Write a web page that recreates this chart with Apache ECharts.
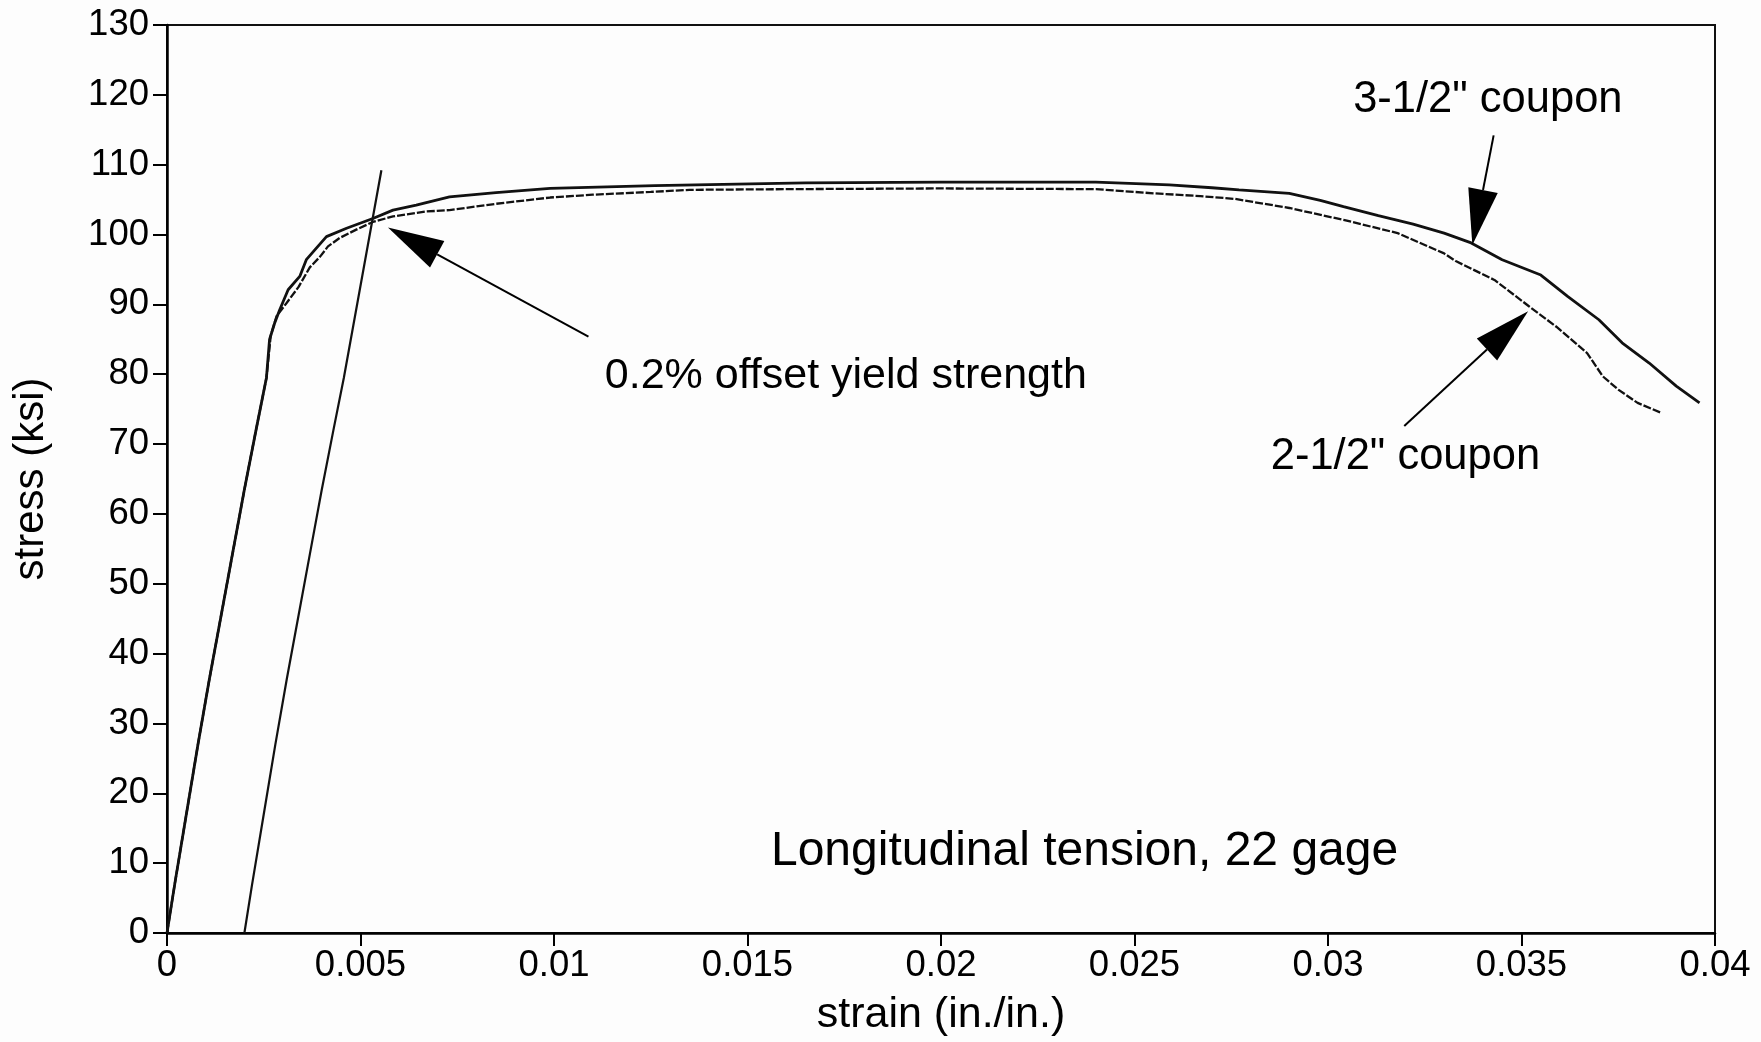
<!DOCTYPE html>
<html>
<head>
<meta charset="utf-8">
<title>Longitudinal tension, 22 gage</title>
<script src="https://cdn.jsdelivr.net/npm/echarts@6/dist/echarts.min.js"></script>
<style>
  html, body { margin: 0; padding: 0; background: #fdfdfd; }
  #chart { width: 1761px; height: 1042px; }
</style>
</head>
<body>
<div id="chart"></div>
<script>
// Stress-strain records, strain in in./in., stress in ksi
const coupon35Strain = [0, 0.0002, 0.0005, 0.0008, 0.0011, 0.0014, 0.0017, 0.0020, 0.0023, 0.00257,
  0.00265, 0.00278, 0.00291, 0.00313, 0.00343, 0.0036, 0.00382, 0.00412, 0.00464, 0.00532, 0.00584, 0.00644, 0.0073,
  0.0085, 0.0099, 0.0126, 0.0165, 0.0200, 0.0240, 0.0259, 0.0270, 0.0277, 0.0290, 0.0298, 0.0304, 0.0313, 0.0322,
  0.0330, 0.0337, 0.0345, 0.0355, 0.0362, 0.0370, 0.0376, 0.0383, 0.0390, 0.0396];
const coupon35Stress = [0, 7, 17, 27, 36.5, 45.5, 54.5, 63.5, 72, 79.5,
  85.0, 87.3, 89.2, 92.1, 94.0, 96.4, 97.8, 99.7, 100.9, 102.3, 103.5, 104.2, 105.4,
  106.0, 106.6, 107.0, 107.4, 107.5, 107.5, 107.1, 106.7, 106.4, 105.9, 104.9, 104.0, 102.7, 101.5,
  100.2, 98.8, 96.4, 94.2, 91.1, 87.8, 84.5, 81.6, 78.3, 75.9];

const coupon25Strain = [0, 0.0002, 0.0005, 0.0008, 0.0011, 0.0014, 0.0017, 0.0020, 0.0023, 0.00257,
  0.00268, 0.00283, 0.00309, 0.0034, 0.00369, 0.00395, 0.00416, 0.00446, 0.00489, 0.00532, 0.00584, 0.0067, 0.0073,
  0.0085, 0.0099, 0.0110, 0.0125, 0.0135, 0.0161, 0.0200, 0.0240, 0.0255, 0.0267, 0.0276, 0.0290, 0.0304, 0.0318,
  0.0330, 0.0333, 0.0343, 0.0352, 0.0359, 0.0367, 0.0371, 0.0375, 0.0380, 0.0386];
const coupon25Stress = [0, 7, 17, 27, 36.5, 45.5, 54.5, 63.5, 72, 79.5,
  85.5, 88.3, 90.2, 92.5, 95.3, 96.8, 98.3, 99.5, 100.7, 101.8, 102.6, 103.3, 103.5,
  104.4, 105.3, 105.7, 106.1, 106.4, 106.5, 106.6, 106.5, 105.9, 105.5, 105.1, 103.8, 102.1, 100.2,
  97.3, 96.2, 93.5, 89.7, 86.8, 83.0, 79.7, 77.8, 75.9, 74.5];

// 0.2% offset line (elastic slope shifted by 0.002)
const offsetStrain = [0.002, 0.0022, 0.0025, 0.0028, 0.0031, 0.0034, 0.0037, 0.0040, 0.0043, 0.00457, 0.00554];
const offsetStress = [0, 7, 17, 27, 36.5, 45.5, 54.5, 63.5, 72, 79.5, 109.2];

// Axis ticks
const strainTickLabels = ['0', '0.005', '0.01', '0.015', '0.02', '0.025', '0.03', '0.035', '0.04'];
const stressTickLabels = ['0', '10', '20', '30', '40', '50', '60', '70', '80', '90', '100', '110', '120', '130'];

// Callout arrows: [tail strain, tail stress, tip strain, tip stress]
const calloutArrows = [
  [0.01089, 85.4, 0.00571, 101.0],
  [0.03428, 114.2, 0.03373, 98.5],
  [0.03197, 72.6, 0.03517, 89.0]
];

// Notes anchored in data units: [strain, stress]
const noteAnchors = [[0.01754, 79.7], [0.03413, 119.2], [0.0320, 68.2], [0.02371, 11.7]];
const noteTexts = ['0.2% offset yield strength', '3-1/2" coupon', '2-1/2" coupon', 'Longitudinal tension, 22 gage'];

const FONT = '"Liberation Sans", Arial, Helvetica, sans-serif';
const noteFontSizes = [43, 43.5, 43.5, 48];

const zip = (xs, ys) => xs.map((x, i) => [x, ys[i]]);

const chart = echarts.init(document.getElementById('chart'), null, { renderer: 'canvas' });

chart.setOption({
  backgroundColor: '#fdfdfd',
  animation: false,
  grid: {
    left: 167, right: 46, top: 25, bottom: 108,
    show: true, borderColor: '#111', borderWidth: 2, backgroundColor: 'transparent'
  },
  xAxis: {
    type: 'value', min: 0, max: 0.04, interval: 0.005,
    name: 'strain (in./in.)', nameLocation: 'middle', nameGap: 61,
    nameTextStyle: { fontFamily: FONT, fontSize: 43, color: '#000' },
    axisLine: { show: true, onZero: false, lineStyle: { color: '#000', width: 2.5 } },
    axisTick: { show: true, inside: false, length: 13, lineStyle: { color: '#000', width: 2 } },
    axisLabel: {
      margin: 14, fontFamily: FONT, fontSize: 36.5, color: '#000',
      formatter: (v, i) => strainTickLabels[i]
    },
    splitLine: { show: false }
  },
  yAxis: {
    type: 'value', min: 0, max: 130, interval: 10,
    name: 'stress (ksi)', nameLocation: 'middle', nameGap: 115,
    nameTextStyle: { fontFamily: FONT, fontSize: 42, color: '#000' },
    axisLine: { show: true, onZero: false, lineStyle: { color: '#000', width: 2.5 } },
    axisTick: { show: true, inside: false, length: 14, lineStyle: { color: '#000', width: 2 } },
    axisLabel: {
      margin: 18, fontFamily: FONT, fontSize: 36.5, color: '#000',
      formatter: (v, i) => stressTickLabels[i]
    },
    splitLine: { show: false }
  },
  series: [
    {
      name: '0.2% offset', type: 'line', data: zip(offsetStrain, offsetStress),
      showSymbol: false, lineStyle: { color: '#111', width: 2.2 }, z: 3
    },
    {
      name: '3-1/2" coupon', type: 'line', data: zip(coupon35Strain, coupon35Stress),
      showSymbol: false, lineStyle: { color: '#111', width: 2.8 }, z: 4
    },
    {
      name: '2-1/2" coupon', type: 'line', data: zip(coupon25Strain, coupon25Stress),
      showSymbol: false, lineStyle: { color: '#111', width: 2.3, type: [8, 2] }, z: 4
    },
    {
      name: 'callouts', type: 'custom', data: calloutArrows, clip: false, z: 5,
      encode: { x: [0, 2], y: [1, 3] },
      renderItem: (params, api) => {
        const tail = api.coord([api.value(0), api.value(1)]);
        const tip = api.coord([api.value(2), api.value(3)]);
        const dx = tip[0] - tail[0], dy = tip[1] - tail[1];
        const len = Math.sqrt(dx * dx + dy * dy);
        const ux = dx / len, uy = dy / len;
        const headLen = 56, headHalf = 15;
        const bx = tip[0] - ux * headLen, by = tip[1] - uy * headLen;
        return {
          type: 'group',
          children: [
            { type: 'line', shape: { x1: tail[0], y1: tail[1], x2: bx, y2: by },
              style: { stroke: '#000', lineWidth: 2 } },
            { type: 'polygon',
              shape: { points: [tip, [bx - uy * headHalf, by + ux * headHalf], [bx + uy * headHalf, by - ux * headHalf]] },
              style: { fill: '#000' } }
          ]
        };
      }
    },
    {
      name: 'notes', type: 'custom', data: noteAnchors, clip: false, z: 5,
      renderItem: (params, api) => {
        const p = api.coord([api.value(0), api.value(1)]);
        const i = params.dataIndex;
        return {
          type: 'text', x: p[0], y: p[1],
          style: {
            text: noteTexts[i], fontFamily: FONT, fontSize: noteFontSizes[i],
            fill: '#000', align: 'center', verticalAlign: 'middle'
          }
        };
      }
    }
  ]
});
</script>
</body>
</html>
